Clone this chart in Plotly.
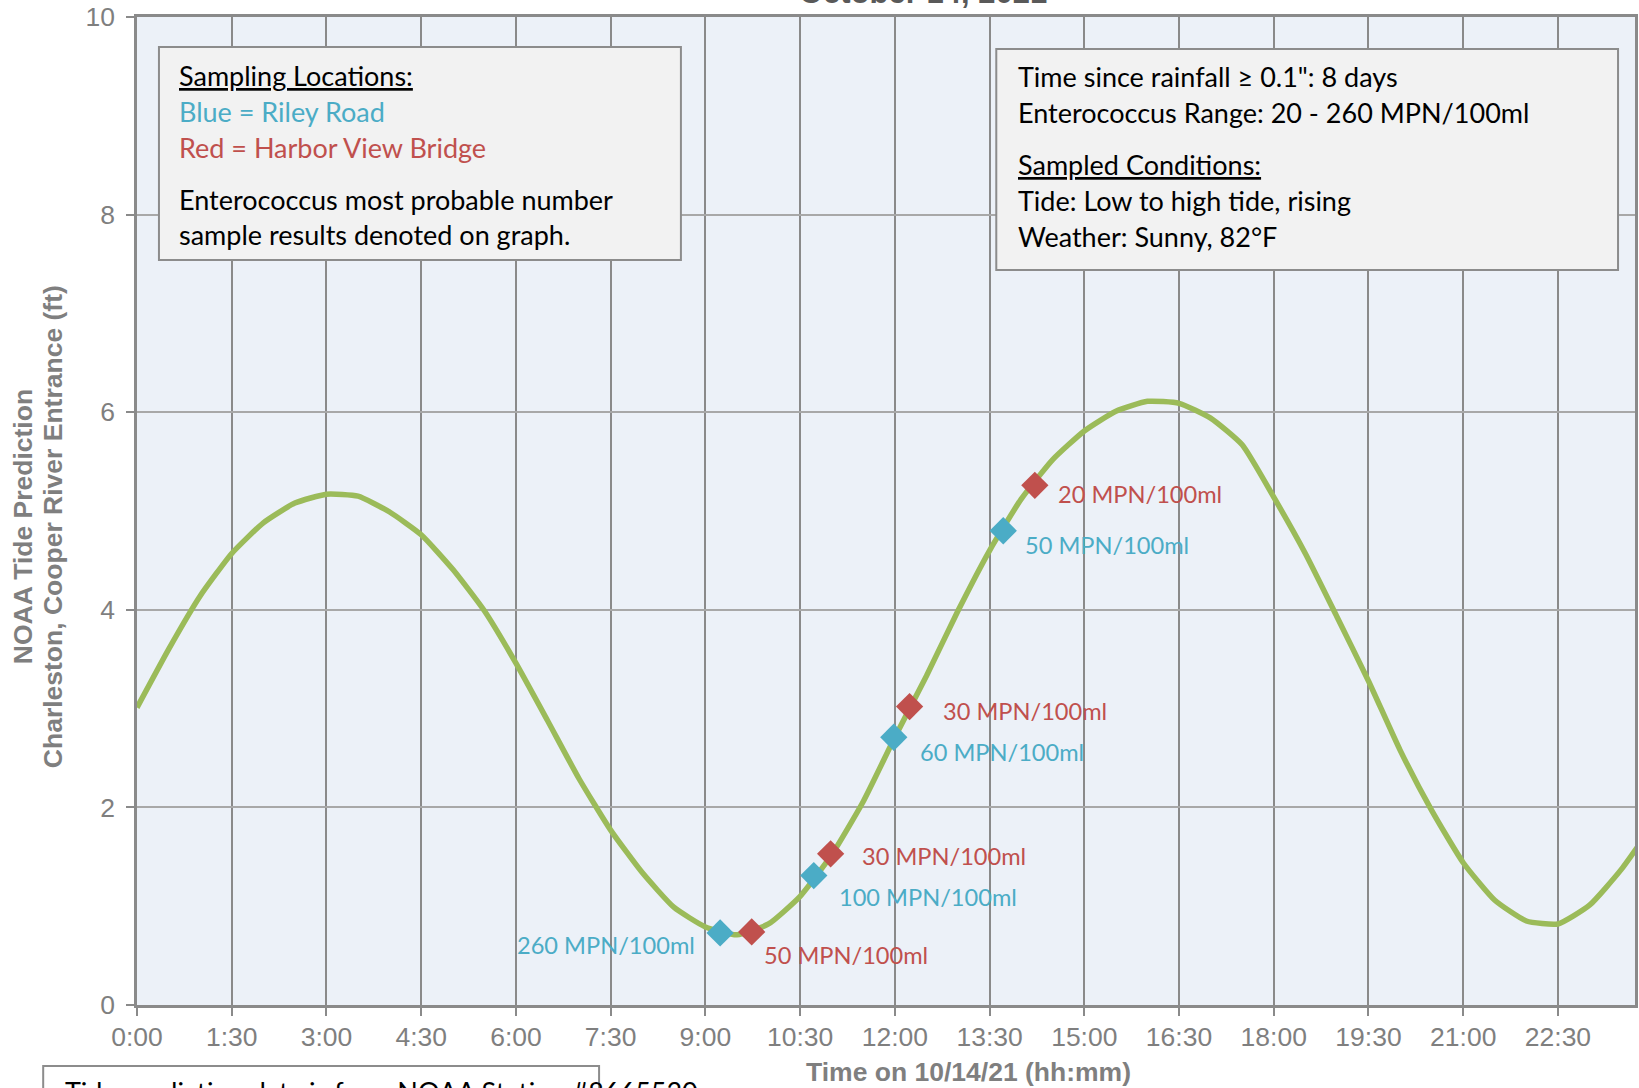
import plotly.graph_objects as go

# ---------------- data ----------------
tide_times = ["0:00", "0:30", "1:00", "1:30", "2:00", "2:30", "3:00", "3:30", "4:00", "4:30",
              "5:00", "5:30", "6:00", "6:30", "7:00", "7:30", "8:00", "8:30", "9:00", "9:30",
              "10:00", "10:30", "11:00", "11:30", "12:00", "12:30", "13:00", "13:30", "14:00", "14:30",
              "15:00", "15:30", "16:00", "16:30", "17:00", "17:30", "18:00", "18:30", "19:00", "19:30",
              "20:00", "20:30", "21:00", "21:30", "22:00", "22:30", "23:00", "23:30", "24:00"]
tide_ft = [3.01, 3.60, 4.14, 4.57, 4.88, 5.08, 5.17, 5.15, 4.99, 4.76,
           4.41, 3.99, 3.46, 2.88, 2.29, 1.77, 1.34, 0.99, 0.79, 0.71,
           0.82, 1.10, 1.52, 2.06, 2.71, 3.33, 3.99, 4.60, 5.12, 5.52,
           5.81, 6.01, 6.11, 6.09, 5.94, 5.67, 5.14, 4.57, 3.93, 3.28,
           2.58, 1.97, 1.44, 1.06, 0.85, 0.82, 1.01, 1.37, 1.82]

riley_times = ["9:14", "10:43", "11:59", "13:43"]
riley_ft = [0.73, 1.31, 2.71, 4.80]
riley_labels = ["260 MPN/100ml", "100 MPN/100ml", "60 MPN/100ml", "50 MPN/100ml"]

harbor_times = ["9:44", "10:59", "12:14", "14:13"]
harbor_ft = [0.74, 1.53, 3.02, 5.26]
harbor_labels = ["50 MPN/100ml", "30 MPN/100ml", "30 MPN/100ml", "20 MPN/100ml"]

x_tick_labels = ["0:00", "1:30", "3:00", "4:30", "6:00", "7:30", "9:00", "10:30",
                 "12:00", "13:30", "15:00", "16:30", "18:00", "19:30", "21:00", "22:30"]
y_ticks = [0, 2, 4, 6, 8, 10]


def to_hours(s):
    h, m = s.split(":")
    return int(h) + int(m) / 60.0


tide_x = [to_hours(t) for t in tide_times]
riley_x = [to_hours(t) for t in riley_times]
harbor_x = [to_hours(t) for t in harbor_times]
x_tick_vals = [to_hours(t) for t in x_tick_labels]

# ---------------- styles / layout geometry ----------------
W, H = 1639, 1088
L, T, R, B = 137, 17, 1, 83
PW, PH = W - L - R, H - T - B

GREEN = "#9BBB59"
BLUE = "#4BACC6"
RED = "#C0504D"
GRAY = "#7F7F7F"
BODY_FONT = "Lato"
AX_FONT = "Liberation Sans, Arial, sans-serif"


def px(p):
    return (p - L) / PW


def py(p):
    return 1 - (p - T) / PH


fig = go.Figure()

fig.add_trace(go.Scatter(x=tide_x, y=tide_ft, mode="lines",
                         line=dict(color=GREEN, width=5.5, shape="spline", smoothing=0.5),
                         hoverinfo="skip", showlegend=False))
fig.add_trace(go.Scatter(x=harbor_x, y=harbor_ft, mode="markers",
                         marker=dict(symbol="diamond", size=21, color=RED),
                         showlegend=False))
fig.add_trace(go.Scatter(x=riley_x, y=riley_ft, mode="markers",
                         marker=dict(symbol="diamond", size=21, color=BLUE),
                         showlegend=False))

annotations = []

# data labels: (xanchor, xshift, yshift) per point
riley_offsets = [("right", -23, -12), ("left", 23, -21), ("left", 24, -15), ("left", 20, -14)]
harbor_offsets = [("left", 10, -23), ("left", 29, -2), ("left", 31, -4), ("left", 21, -9)]
for xs, ys, labs, offs, col in [(riley_x, riley_ft, riley_labels, riley_offsets, BLUE),
                                (harbor_x, harbor_ft, harbor_labels, harbor_offsets, RED)]:
    for xv, yv, lab, (xa, dx, dy) in zip(xs, ys, labs, offs):
        annotations.append(dict(x=xv, y=yv, xref="x", yref="y", text=lab, showarrow=False,
                                xanchor=xa, yanchor="middle", xshift=dx, yshift=dy,
                                font=dict(family=BODY_FONT, size=23.6, color=col)))

# boxes
box_line = dict(color="#8C8C8C", width=2)
shapes = [
    dict(type="rect", xref="paper", yref="paper", x0=px(159), x1=px(682), y0=py(47), y1=py(260),
         fillcolor="#F2F2F2", line=box_line, layer="above"),
    dict(type="rect", xref="paper", yref="paper", x0=px(998), x1=px(1621), y0=py(49), y1=py(270),
         fillcolor="#F2F2F2", line=box_line, layer="above"),
    dict(type="rect", xref="paper", yref="paper", x0=px(43), x1=px(600), y0=py(1066), y1=py(1120),
         fillcolor="#FFFFFF", line=box_line, layer="above"),
]

BOX_FS = 27
DESC = 0.213 * BOX_FS + 1


def box_line_text(x, baseline, text, color="black"):
    annotations.append(dict(x=px(x), y=py(baseline + DESC), xref="paper", yref="paper",
                            text=text, showarrow=False, xanchor="left", yanchor="bottom",
                            font=dict(family=BODY_FONT, size=BOX_FS, color=color)))


box_line_text(177, 87, "<u>Sampling Locations:</u>")
box_line_text(177, 123, "Blue = Riley Road", BLUE)
box_line_text(177, 159, "Red = Harbor View Bridge", RED)
box_line_text(177, 211, "Enterococcus most probable number")
box_line_text(177, 246, "sample results denoted on graph.")

box_line_text(1018, 88, "Time since rainfall \u2265 0.1\": 8 days")
box_line_text(1018, 124, "Enterococcus Range: 20 - 260 MPN/100ml")
box_line_text(1018, 176, "<u>Sampled Conditions:</u>")
box_line_text(1018, 212, "Tide: Low to high tide, rising")
box_line_text(1018, 248, "Weather: Sunny, 82\u00b0F")

box_line_text(63, 1103, "Tide prediction data is from NOAA Station #8665530")

# title (cropped at top)
annotations.append(dict(x=px(925), y=py(12), xref="paper", yref="paper",
                        text="<b>October 14, 2021</b>", showarrow=False,
                        xanchor="center", yanchor="bottom",
                        font=dict(family=AX_FONT, size=31, color="#595959")))

# axis titles
annotations.append(dict(x=px(970), y=py(1072), xref="paper", yref="paper",
                        text="<b>Time on 10/14/21 (hh:mm)</b>", showarrow=False,
                        xanchor="center", yanchor="middle",
                        font=dict(family=AX_FONT, size=26.5, color=GRAY)))
annotations.append(dict(x=px(23), y=py(527), xref="paper", yref="paper",
                        text="<b>NOAA Tide Prediction</b>", showarrow=False, textangle=-90,
                        xanchor="center", yanchor="middle",
                        font=dict(family=AX_FONT, size=26.5, color=GRAY)))
annotations.append(dict(x=px(53), y=py(527), xref="paper", yref="paper",
                        text="<b>Charleston, Cooper River Entrance (ft)</b>", showarrow=False,
                        textangle=-90, xanchor="center", yanchor="middle",
                        font=dict(family=AX_FONT, size=26.5, color=GRAY)))

fig.update_layout(
    width=W, height=H,
    margin=dict(l=L, r=R, t=T, b=B, pad=0),
    paper_bgcolor="white",
    plot_bgcolor="#ECF1F8",
    shapes=shapes,
    annotations=annotations,
    showlegend=False,
    font=dict(family=AX_FONT, color=GRAY),
)

fig.update_xaxes(range=[0, 23.72], tickmode="array", tickvals=x_tick_vals, ticktext=x_tick_labels,
                 showgrid=True, gridcolor="#8A8A8A", gridwidth=2,
                 showline=True, linecolor="#8A8A8A", linewidth=2.5, mirror=True,
                 ticks="outside", ticklen=8, tickwidth=2, tickcolor="#8A8A8A",
                 ticklabeloverflow="allow", ticklabelstandoff=-2,
                 tickfont=dict(family=AX_FONT, size=26.5, color=GRAY), zeroline=False)
fig.update_yaxes(range=[0, 10], tickmode="array", tickvals=y_ticks,
                 showgrid=True, gridcolor="#A8A8A8", gridwidth=2,
                 showline=True, linecolor="#8A8A8A", linewidth=2.5, mirror=True,
                 ticks="outside", ticklen=8, tickwidth=2, tickcolor="#8A8A8A",
                 ticklabeloverflow="allow", ticklabelstandoff=6,
                 tickfont=dict(family=AX_FONT, size=26.5, color=GRAY), zeroline=False)

fig.write_html("out.html", config={"displayModeBar": False},
               post_script="document.body.style.margin='0';document.body.style.overflow='hidden';")
